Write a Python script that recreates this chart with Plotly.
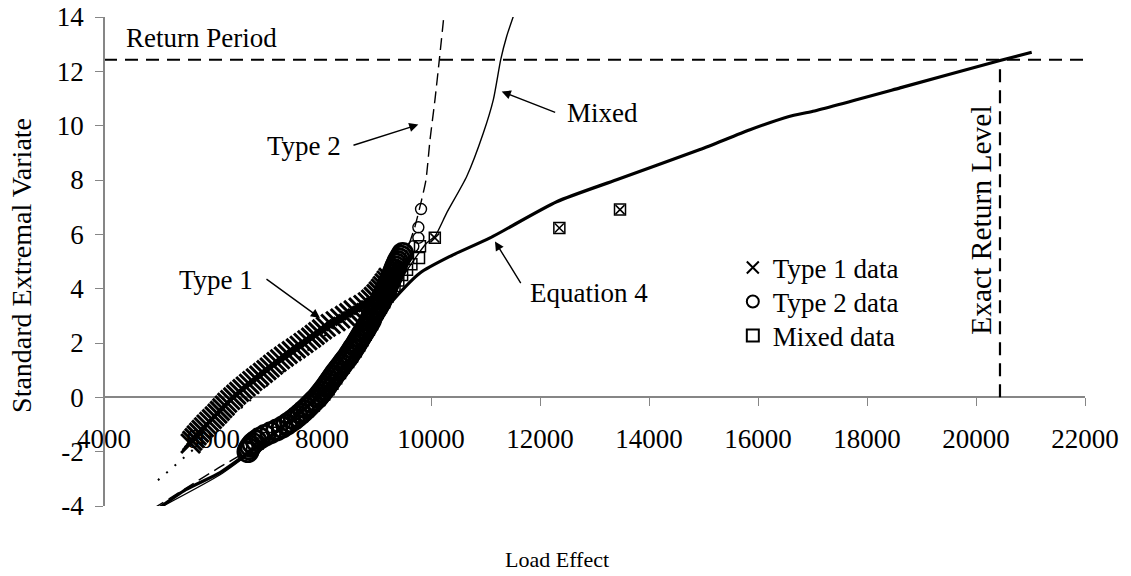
import plotly.graph_objects as go

# ---------------- axes ----------------
x_ticks = [4000, 6000, 8000, 10000, 12000, 14000, 16000, 18000, 20000, 22000]
x_tick_labels = ["4000", "6000", "8000", "10000", "12000", "14000", "16000", "18000", "20000", "22000"]
y_ticks = [-4, -2, 0, 2, 4, 6, 8, 10, 12, 14]
y_tick_labels = ["-4", "-2", "0", "2", "4", "6", "8", "10", "12", "14"]

# ---------------- reference levels ----------------
return_period_y = 12.43
exact_return_level_x = 20440

# ---------------- data: Type 1 (x markers) ----------------
type1_x = [5590, 5620, 5660, 5700, 5745, 5790, 5835, 5880, 5930, 5980, 6030, 6080, 6125, 6170,
           6215, 6260, 6315, 6370, 6425, 6480, 6540, 6600, 6660, 6720, 6785, 6850, 6915, 6980,
           7040, 7100, 7165, 7230, 7300, 7370, 7445, 7520, 7590, 7660, 7730, 7800, 7865, 7930,
           8000, 8070, 8160, 8250, 8335, 8420, 8500, 8580, 8670, 8760, 8840, 8900, 8950, 9000,
           9040, 9080, 9115, 9150, 9185, 9220, 10070, 12355, 13468]
type1_y = [-1.7, -1.6, -1.5, -1.4, -1.3, -1.2, -1.1, -1.0, -0.9, -0.8, -0.7, -0.6, -0.5, -0.4,
           -0.3, -0.2, -0.1, 0.0, 0.1, 0.2, 0.3, 0.4, 0.5, 0.6, 0.7, 0.8, 0.9, 1.0,
           1.1, 1.2, 1.3, 1.4, 1.5, 1.6, 1.7, 1.8, 1.9, 2.0, 2.1, 2.2, 2.3, 2.4,
           2.5, 2.6, 2.7, 2.8, 2.9, 3.0, 3.1, 3.2, 3.3, 3.4, 3.5, 3.6, 3.7, 3.8,
           3.9, 4.0, 4.1, 4.2, 4.3, 4.4, 5.87, 6.23, 6.91]

# ---------------- data: Type 2 (circles) ----------------
type2_x = [6640, 6660, 6690, 6730, 6790, 6860, 6950, 7060, 7170, 7270, 7350, 7420, 7490, 7550,
           7610, 7665, 7720, 7770, 7820, 7870, 7920, 7960, 8000, 8040, 8075, 8110, 8145, 8180,
           8215, 8250, 8290, 8325, 8365, 8400, 8440, 8480, 8510, 8545, 8575, 8610, 8640, 8670,
           8700, 8730, 8760, 8790, 8820, 8850, 8880, 8900, 8920, 8950, 8980, 9010, 9040, 9070,
           9090, 9110, 9135, 9160, 9180, 9200, 9220, 9245, 9270, 9290, 9310, 9330, 9350, 9370,
           9390, 9420, 9450, 9480, 9676, 9768, 9768, 9817]
type2_y = [-2.0, -1.9, -1.8, -1.7, -1.6, -1.5, -1.4, -1.3, -1.2, -1.1, -1.0, -0.9, -0.8, -0.7,
           -0.6, -0.5, -0.4, -0.3, -0.2, -0.1, 0.0, 0.1, 0.2, 0.3, 0.4, 0.5, 0.6, 0.7,
           0.8, 0.9, 1.0, 1.1, 1.2, 1.3, 1.4, 1.5, 1.6, 1.7, 1.8, 1.9, 2.0, 2.1,
           2.2, 2.3, 2.4, 2.5, 2.6, 2.7, 2.8, 2.9, 3.0, 3.1, 3.2, 3.3, 3.4, 3.5,
           3.6, 3.7, 3.8, 3.9, 4.0, 4.1, 4.2, 4.3, 4.4, 4.5, 4.6, 4.7, 4.8, 4.9,
           5.0, 5.1, 5.2, 5.3, 5.56, 5.87, 6.26, 6.93]

# ---------------- data: Mixed (squares) ----------------
mixed_x = [6720, 6820, 6980, 7180, 7360, 7500, 7630, 7740, 7850, 7950, 8040, 8120, 8190, 8260,
           8330, 8400, 8480, 8550, 8620, 8680, 8740, 8800, 8860, 8920, 8970, 9020, 9080, 9140,
           9200, 9260, 9330, 9400, 9470, 9560, 9640, 9780, 9798, 10070, 12355, 13468]
mixed_y = [-1.9, -1.7, -1.5, -1.3, -1.1, -0.9, -0.7, -0.5, -0.3, -0.1, 0.1, 0.3, 0.5, 0.7,
           0.9, 1.1, 1.3, 1.5, 1.7, 1.9, 2.1, 2.3, 2.5, 2.7, 2.9, 3.1, 3.3, 3.5,
           3.7, 3.9, 4.1, 4.3, 4.5, 4.7, 4.9, 5.13, 5.56, 5.87, 6.23, 6.91]

# ---------------- fitted curves ----------------
eq4_x = [4972, 5500, 6130, 6730, 7300, 7950, 8500, 8950, 9308, 9798, 10349, 11083, 12306,
         13406, 14936, 15853, 16569, 17009, 18606, 20440, 21022]
eq4_y = [-4.13, -3.4, -2.77, -1.92, -1.05, 0.1, 1.4, 2.7, 3.59, 4.58, 5.19, 5.87, 7.2,
         8.01, 9.12, 9.85, 10.34, 10.53, 11.39, 12.4, 12.7]

mixfit_x = [4990, 6130, 6730, 7300, 7950, 8500, 9000, 9400, 9920, 10073, 10288, 10655, 10960,
            11144, 11279, 11389, 11541]
mixfit_y = [-4.1, -2.85, -1.98, -1.1, 0.0, 1.4, 2.9, 4.2, 5.68, 5.93, 6.79, 8.13, 9.73,
            10.96, 12.43, 13.29, 14.2]

type2fit_x = [4900, 5500, 6100, 6650, 7300, 7900, 8500, 9000, 9400, 9584, 9706, 9829, 9908,
              9982, 10073, 10153, 10245]
type2fit_y = [-4.1, -3.35, -2.6, -1.95, -1.0, 0.0, 1.5, 3.0, 4.6, 5.56, 6.29, 7.28, 8.01,
              9.48, 10.96, 12.43, 14.2]

type1fit_x = [4990, 8700]
type1fit_y = [-3.05, 3.4]

FONT = "Liberation Serif, Times New Roman, serif"
AXIS_GREY = "#868686"

fig = go.Figure()

def line_trace(x, y, width, dash="solid", shape="linear"):
    return go.Scatter(x=x, y=y, mode="lines", showlegend=False, hoverinfo="skip",
                      line=dict(color="black", width=width, dash=dash, shape=shape, smoothing=0.6))

# reference lines
fig.add_trace(line_trace([x_ticks[0], x_ticks[-1]], [return_period_y, return_period_y], 2, "13px,8px"))
fig.add_trace(line_trace([exact_return_level_x, exact_return_level_x], [0, return_period_y], 2.2, "13px,8px"))

# fitted curves
fig.add_trace(line_trace(type1fit_x, type1fit_y, 2, "2px,9px"))
fig.add_trace(line_trace(type2fit_x, type2fit_y, 1.4, "12px,6px", "spline"))
fig.add_trace(line_trace(mixfit_x, mixfit_y, 1.4, "solid", "spline"))
fig.add_trace(line_trace(eq4_x, eq4_y, 3.2, "solid", "spline"))

# data (dense bands use bigger, bolder markers; isolated top points are small)
t1_sizes = [19 if v < 5 else 9 for v in type1_y]
t1_widths = [3.0 if v < 5 else 1.5 for v in type1_y]
t2_sizes = [20 if v < 5.5 else 11 for v in type2_y]
t2_widths = [2.8 if v < 5.5 else 1.4 for v in type2_y]

fig.add_trace(go.Scatter(x=type1_x, y=type1_y, mode="markers", name="Type 1 data", legend="legend",
                         marker=dict(symbol="x-thin-open", size=t1_sizes, color="black", opacity=1,
                                     line=dict(color="black", width=t1_widths))))
fig.add_trace(go.Scatter(x=type2_x, y=type2_y, mode="markers", name="Type 2 data", legend="legend2",
                         marker=dict(symbol="circle-open", size=t2_sizes, color="black", opacity=1,
                                     line=dict(color="black", width=t2_widths))))
fig.add_trace(go.Scatter(x=mixed_x, y=mixed_y, mode="markers", name="Mixed data", legend="legend3",
                         marker=dict(symbol="square-open", size=11, color="black", opacity=1,
                                     line=dict(color="black", width=1.5))))

def arrow(x, y, ax, ay):
    fig.add_annotation(x=x, y=y, ax=ax, ay=ay, xref="x", yref="y", axref="x", ayref="y",
                       text="", showarrow=True, arrowhead=2, arrowsize=1.3, arrowwidth=1.4,
                       arrowcolor="black")

def label(x, y, text, xanchor="center", angle=0, size=27):
    fig.add_annotation(x=x, y=y, xref="x", yref="y", text=text, showarrow=False,
                       xanchor=xanchor, yanchor="middle", textangle=angle,
                       font=dict(family=FONT, size=size, color="black"))

arrow(9767, 10.04, 8550, 9.26)
arrow(11297, 11.26, 12306, 10.47)
arrow(7963, 2.92, 6954, 4.39)
arrow(11174, 5.74, 11664, 4.15)

label(7661, 9.26, "Type 2")
label(13147, 10.48, "Mixed")
label(6055, 4.33, "Type 1")
label(12899, 3.85, "Equation 4")
label(4367, 13.24, "Return Period", xanchor="left")
label(20092, 6.5, "Exact Return Level", angle=-90, size=29.5)

# axis titles
fig.add_annotation(x=-0.0836, y=0.493, xref="paper", yref="paper", text="Standard Extremal Variate",
                   textangle=-90, showarrow=False, xanchor="center", yanchor="middle",
                   font=dict(family=FONT, size=28, color="black"))
fig.add_annotation(x=0.4618, y=-0.1104, xref="paper", yref="paper", text="Load Effect",
                   showarrow=False, xanchor="center", yanchor="middle",
                   font=dict(family=FONT, size=22, color="black"))

tick_font = dict(family=FONT, size=27, color="black")
x_zero_pos = (0 - y_ticks[0]) / (y_ticks[-1] - y_ticks[0])

legend_common = dict(x=0.641, xanchor="left", yanchor="middle", bgcolor="rgba(0,0,0,0)",
                     font=dict(family=FONT, size=27, color="black"), itemsizing="constant")

fig.update_layout(
    width=1131, height=576,
    margin=dict(l=104, r=46, t=17, b=70, autoexpand=False),
    paper_bgcolor="white", plot_bgcolor="white",
    font=dict(family=FONT, color="black"),
    xaxis=dict(range=[x_ticks[0], x_ticks[-1]], anchor="free", position=x_zero_pos,
               tickvals=x_ticks, ticktext=x_tick_labels, tickfont=tick_font, automargin=False,
               showline=True, linecolor=AXIS_GREY, linewidth=1.5,
               ticks="outside", ticklen=8, tickcolor=AXIS_GREY, tickwidth=1.3,
               showgrid=False, zeroline=False, layer="below traces", ticklabelstandoff=10),
    yaxis=dict(range=[y_ticks[0], y_ticks[-1]], anchor="free", position=0,
               tickvals=y_ticks, ticktext=y_tick_labels, tickfont=tick_font, automargin=False,
               showline=True, linecolor=AXIS_GREY, linewidth=1.5,
               ticks="outside", ticklen=8, tickcolor=AXIS_GREY, tickwidth=1.3,
               showgrid=False, zeroline=False, ticklabelstandoff=6),
    legend=dict(y=(506 - 268) / 489, **legend_common),
    legend2=dict(y=(506 - 302) / 489, **legend_common),
    legend3=dict(y=(506 - 336) / 489, **legend_common),
    showlegend=True,
)

fig.write_html("out.html", config={"displayModeBar": False},
               post_script="document.body.style.margin='0';")
